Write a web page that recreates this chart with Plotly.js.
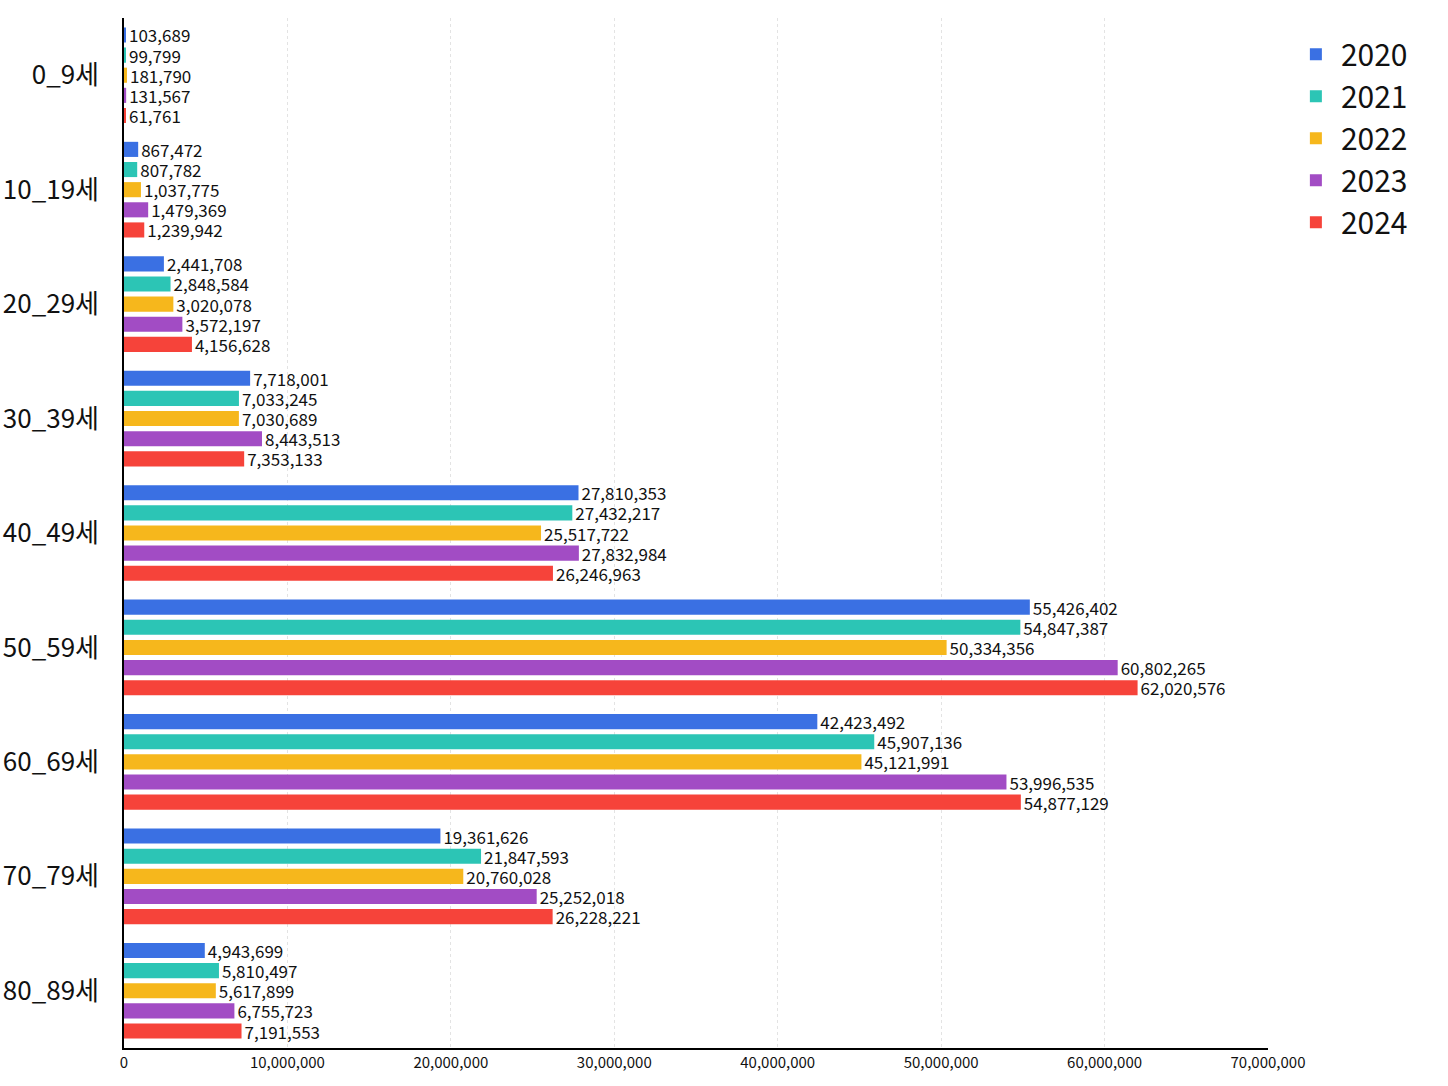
<!DOCTYPE html>
<html>
<head>
<meta charset="utf-8">
<script src="https://cdn.plot.ly/plotly-3.0.1.min.js"></script>
<style>body{margin:0;background:#fff}</style>
</head>
<body>
<div id="chart" style="width:1448px;height:1086px"></div>
<script>
const ageGroups = ['0_9세', '10_19세', '20_29세', '30_39세', '40_49세', '50_59세', '60_69세', '70_79세', '80_89세'];
const years = ['2020', '2021', '2022', '2023', '2024'];
const colors = ['#3a70e3', '#2cc5b5', '#f6b71c', '#a24cc4', '#f6433a'];

const v2020 = [103689, 867472, 2441708, 7718001, 27810353, 55426402, 42423492, 19361626, 4943699];
const v2021 = [99799, 807782, 2848584, 7033245, 27432217, 54847387, 45907136, 21847593, 5810497];
const v2022 = [181790, 1037775, 3020078, 7030689, 25517722, 50334356, 45121991, 20760028, 5617899];
const v2023 = [131567, 1479369, 3572197, 8443513, 27832984, 60802265, 53996535, 25252018, 6755723];
const v2024 = [61761, 1239942, 4156628, 7353133, 26246963, 62020576, 54877129, 26228221, 7191553];
const series = [v2020, v2021, v2022, v2023, v2024];

const data = series.map((vals, i) => ({
  type: 'bar',
  orientation: 'h',
  name: years[i],
  legendgroup: years[i],
  y: ageGroups,
  x: vals,
  marker: {color: colors[i]},
  text: vals.map(v => v.toLocaleString('en-US')),
  textposition: 'outside',
  constraintext: 'none',
  cliponaxis: false,
  textfont: {size: 17, color: '#111'},
  hoverinfo: 'x+name'
}));

const layout = {
  font: {family: 'Noto Sans CJK KR, Noto Sans, sans-serif', color: '#111'},
  margin: {l: 124, r: 180, t: 18, b: 38},
  barmode: 'group',
  bargap: 0.12,
  bargroupgap: 0.25,
  uniformtext: {mode: false},
  xaxis: {
    range: [0, 70000000],
    dtick: 10000000,
    tickformat: ',d',
    tickfont: {size: 15},
    showgrid: true,
    gridcolor: '#e3e3e3',
    griddash: 'dot',
    showline: true,
    linecolor: '#000',
    linewidth: 1.5,
    zeroline: false
  },
  yaxis: {
    autorange: 'reversed',
    tickfont: {size: 26},
    showline: true,
    linecolor: '#000',
    linewidth: 1.5,
    ticks: '',
    ticklabelstandoff: 18
  },
  legend: {
    x: 1.02, y: 0.99, xanchor: 'left', yanchor: 'top',
    font: {size: 30},
    itemwidth: 40,
    tracegroupgap: 18,
    traceorder: 'normal'
  },
  plot_bgcolor: '#fff',
  paper_bgcolor: '#fff'
};

Plotly.newPlot('chart', data, layout, {displayModeBar: false});
</script>
</body>
</html>
